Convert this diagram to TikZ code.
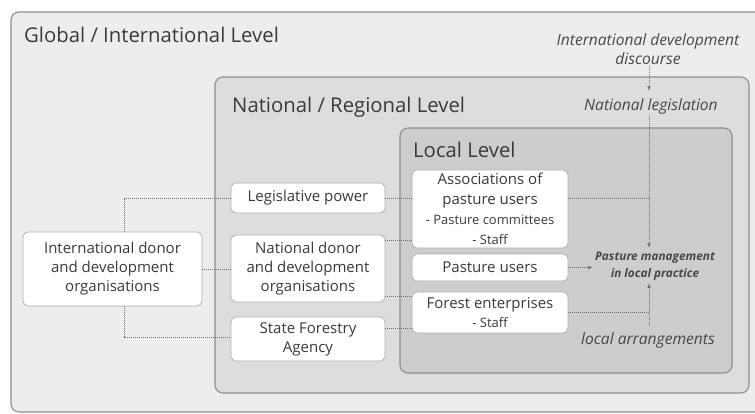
\documentclass[tikz,border=0pt]{standalone}
\usepackage{fontspec}
\setmainfont{Open Sans}
\usetikzlibrary{arrows.meta,calc}
\definecolor{gfill}{HTML}{EDEDEE}
\definecolor{nfill}{HTML}{DDDDDE}
\definecolor{lfill}{HTML}{CDCDCE}
\definecolor{lvline}{HTML}{8E8E8E}
\definecolor{boxline}{HTML}{B0B0B0}
\definecolor{txt}{HTML}{3A3A3A}
\definecolor{itxt}{HTML}{484848}
\definecolor{conn}{HTML}{6E6E6E}
\tikzset{
  levelbox/.style={draw=lvline, line width=1.1pt, rounded corners=8pt},
  leveltitle/.style={anchor=base west, inner sep=0pt, text=txt, font=\fontsize{20.3}{24}\selectfont},
  orgbox/.style={draw=boxline, line width=0.8pt, fill=white, rounded corners=5pt, align=center,
     inner sep=0pt, text=txt, font=\fontsize{15}{19}\selectfont},
  itlabel/.style={align=center, inner sep=1pt, text=itxt, font=\fontsize{15.6}{19.5}\selectfont\itshape},
  pmlabel/.style={align=center, inner sep=1pt, text=itxt, font=\fontsize{11.8}{17}\selectfont\bfseries\itshape},
  dotline/.style={draw=conn, line width=0.8pt, dash pattern=on 1pt off 1pt},
  arr/.style={dotline, -{Latex[length=5pt,width=3.5pt]}}
}
\newcommand{\subline}[1]{{\fontsize{13}{18}\selectfont #1}}
\begin{document}
\begin{tikzpicture}[x=1pt,y=-1pt]
\clip (0,0) rectangle (755,413);
\fill[white] (0,0) rectangle (755,413);
% levels
\draw[levelbox, fill=gfill] (11,12) rectangle (790,412);
\draw[levelbox, fill=nfill] (215,77) rectangle (749,393);
\draw[levelbox, fill=lfill] (400,128) rectangle (732,373);
\node[leveltitle] (tglob) at (24,42) {Global / International Level};
\node[leveltitle] (tnat) at (232,112) {National / Regional Level};
\node[leveltitle] (tloc) at (413,157) {Local Level};
% organisations
\node[orgbox, minimum width=179pt, minimum height=74pt] (intdonor) at (112.5,269) {International donor\\and development\\organisations};
\node[orgbox, minimum width=154pt, minimum height=30pt] (legis) at (308,198) {Legislative power};
\node[orgbox, minimum width=154pt, minimum height=67pt] (natdonor) at (308,268.5) {National donor\\and development\\organisations};
\node[orgbox, minimum width=154pt, minimum height=44pt] (sfa) at (308,339) {State Forestry\\Agency};
\node[orgbox, minimum width=156pt, minimum height=78pt, font=\fontsize{15}{20}\selectfont] (assoc) at (490,209) {Associations of\\pasture users\\\subline{- Pasture committees}\\\subline{- Staff}};
\node[orgbox, minimum width=156pt, minimum height=27pt] (pusers) at (490,267.5) {Pasture users};
\node[orgbox, minimum width=156pt, minimum height=41pt] (forest) at (490,312.5) {Forest enterprises\\\subline{- Staff}};
% labels
\node[itlabel] (disc) at (648,49) {International development\\discourse};
\node[itlabel] (natleg) at (651,106) {National legislation};
\node[pmlabel] (pm) at (655,266.5) {Pasture management\\in local practice};
\node[itlabel] (locarr) at (648,340) {local arrangements};
\coordinate (col) at (649,0);
% connectors left
\draw[dotline] ([xshift=11.5pt]intdonor.north) |- (legis.west);
\draw[dotline] ([xshift=11.5pt]intdonor.south) |- ([yshift=2pt]sfa.west);
\draw[dotline] (intdonor.east) -- (intdonor.east -| natdonor.west);
\draw[dotline] (legis.east) -- (legis.east -| assoc.west);
\draw[dotline] ([yshift=28.5pt]natdonor.east) -- ([yshift=28.5pt]natdonor.east -| assoc.west);
\draw[dotline] ([yshift=-27.5pt]natdonor.east) -- ([yshift=-27.5pt]natdonor.east -| forest.west);
\draw[dotline] ([yshift=11pt]sfa.east) -- ([yshift=11pt]sfa.east -| forest.west);
% connectors right
\draw[arr] (disc.south -| col) -- ([yshift=6pt]natleg.north -| col);
\draw[arr] (natleg.south -| col) -- ([yshift=3pt]pm.north -| col);
\draw[dotline] ([yshift=11pt]assoc.east) -- ([yshift=11pt]assoc.east -| col);
\draw[arr] (pusers.east) -- ([xshift=-1pt]pusers.east -| pm.west);
\draw[arr] ([yshift=5pt]locarr.north -| col) -- ([yshift=-1pt]pm.south -| col);
\draw[dotline] (forest.east) -- (forest.east -| col);
\end{tikzpicture}
\end{document}
